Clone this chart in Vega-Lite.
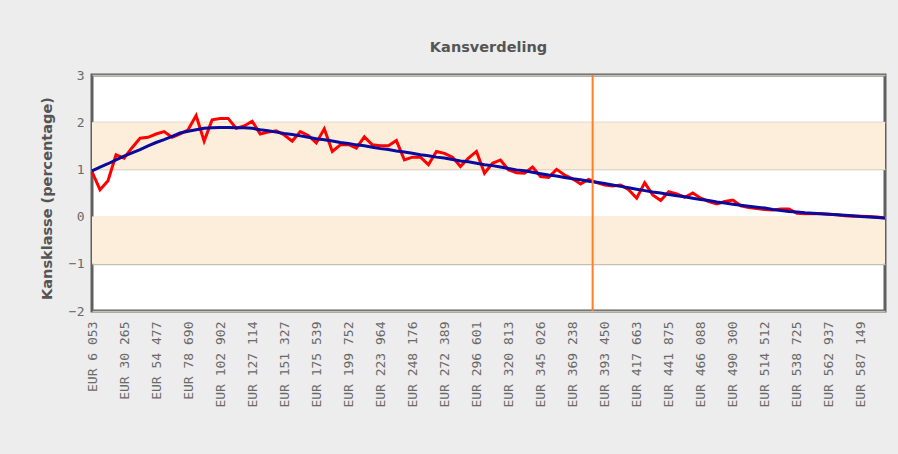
{
  "$schema": "https://vega.github.io/schema/vega-lite/v6.json",
  "autosize": {"type": "none"},
  "width": 793,
  "height": 236,
  "padding": {"left": 92, "top": 75, "right": 13, "bottom": 143},
  "background": "#ededed",
  "title": {
    "text": "Kansverdeling",
    "font": "DejaVu Sans",
    "fontSize": 14.5,
    "fontWeight": "bold",
    "color": "#555555",
    "anchor": "middle",
    "offset": 14
  },
  "config": {
    "view": {"stroke": "#5f5f5f", "strokeWidth": 3, "fill": "#ffffff"},
    "axis": {"domain": false, "ticks": false},
    "axisX": {"labelOverlap": false, "labelFlush": false, "labelBound": false, "tickCount": 40}
  },
  "datasets": {
    "punten": [
      {"bedrag": 6053, "werkelijk": 0.95, "trend": 0.97},
      {"bedrag": 12106, "werkelijk": 0.57, "trend": 1.05},
      {"bedrag": 18159, "werkelijk": 0.76, "trend": 1.12},
      {"bedrag": 24212, "werkelijk": 1.31, "trend": 1.2},
      {"bedrag": 30265, "werkelijk": 1.24, "trend": 1.28},
      {"bedrag": 36318, "werkelijk": 1.46, "trend": 1.35},
      {"bedrag": 42372, "werkelijk": 1.66, "trend": 1.42},
      {"bedrag": 48425, "werkelijk": 1.68, "trend": 1.5},
      {"bedrag": 54477, "werkelijk": 1.75, "trend": 1.57},
      {"bedrag": 60531, "werkelijk": 1.8, "trend": 1.63},
      {"bedrag": 66584, "werkelijk": 1.68, "trend": 1.7},
      {"bedrag": 72637, "werkelijk": 1.75, "trend": 1.77},
      {"bedrag": 78690, "werkelijk": 1.84, "trend": 1.81},
      {"bedrag": 84743, "werkelijk": 2.14, "trend": 1.84},
      {"bedrag": 90796, "werkelijk": 1.6, "trend": 1.87},
      {"bedrag": 96849, "werkelijk": 2.05, "trend": 1.88},
      {"bedrag": 102902, "werkelijk": 2.08, "trend": 1.89},
      {"bedrag": 108955, "werkelijk": 2.08, "trend": 1.89},
      {"bedrag": 115009, "werkelijk": 1.87, "trend": 1.88},
      {"bedrag": 121062, "werkelijk": 1.92, "trend": 1.88},
      {"bedrag": 127114, "werkelijk": 2.02, "trend": 1.87},
      {"bedrag": 133168, "werkelijk": 1.75, "trend": 1.84},
      {"bedrag": 139221, "werkelijk": 1.79, "trend": 1.82},
      {"bedrag": 145274, "werkelijk": 1.82, "trend": 1.79},
      {"bedrag": 151327, "werkelijk": 1.73, "trend": 1.76},
      {"bedrag": 157380, "werkelijk": 1.6, "trend": 1.74},
      {"bedrag": 163433, "werkelijk": 1.8, "trend": 1.71},
      {"bedrag": 169486, "werkelijk": 1.72, "trend": 1.68},
      {"bedrag": 175539, "werkelijk": 1.56, "trend": 1.65},
      {"bedrag": 181592, "werkelijk": 1.86, "trend": 1.63},
      {"bedrag": 187645, "werkelijk": 1.38, "trend": 1.6},
      {"bedrag": 193699, "werkelijk": 1.52, "trend": 1.57},
      {"bedrag": 199752, "werkelijk": 1.53, "trend": 1.55},
      {"bedrag": 205805, "werkelijk": 1.45, "trend": 1.52},
      {"bedrag": 211858, "werkelijk": 1.69, "trend": 1.5},
      {"bedrag": 217911, "werkelijk": 1.52, "trend": 1.47},
      {"bedrag": 223964, "werkelijk": 1.5, "trend": 1.44},
      {"bedrag": 230017, "werkelijk": 1.5, "trend": 1.42},
      {"bedrag": 236070, "werkelijk": 1.61, "trend": 1.39},
      {"bedrag": 242123, "werkelijk": 1.2, "trend": 1.37},
      {"bedrag": 248176, "werkelijk": 1.26, "trend": 1.34},
      {"bedrag": 254229, "werkelijk": 1.26, "trend": 1.31},
      {"bedrag": 260282, "werkelijk": 1.1, "trend": 1.29},
      {"bedrag": 266336, "werkelijk": 1.38, "trend": 1.26},
      {"bedrag": 272389, "werkelijk": 1.34, "trend": 1.24},
      {"bedrag": 278442, "werkelijk": 1.26, "trend": 1.21},
      {"bedrag": 284495, "werkelijk": 1.06, "trend": 1.18},
      {"bedrag": 290548, "werkelijk": 1.24, "trend": 1.16},
      {"bedrag": 296601, "werkelijk": 1.38, "trend": 1.13},
      {"bedrag": 302654, "werkelijk": 0.92, "trend": 1.1},
      {"bedrag": 308707, "werkelijk": 1.13, "trend": 1.08},
      {"bedrag": 314760, "werkelijk": 1.2, "trend": 1.05},
      {"bedrag": 320813, "werkelijk": 0.99, "trend": 1.02},
      {"bedrag": 326866, "werkelijk": 0.93, "trend": 0.99},
      {"bedrag": 332919, "werkelijk": 0.92, "trend": 0.97},
      {"bedrag": 338972, "werkelijk": 1.05, "trend": 0.94},
      {"bedrag": 345026, "werkelijk": 0.85, "trend": 0.91},
      {"bedrag": 351079, "werkelijk": 0.83, "trend": 0.88},
      {"bedrag": 357132, "werkelijk": 1.0, "trend": 0.86},
      {"bedrag": 363185, "werkelijk": 0.88, "trend": 0.83},
      {"bedrag": 369238, "werkelijk": 0.8, "trend": 0.8},
      {"bedrag": 375291, "werkelijk": 0.69, "trend": 0.78},
      {"bedrag": 381344, "werkelijk": 0.79, "trend": 0.75},
      {"bedrag": 387397, "werkelijk": 0.72, "trend": 0.73},
      {"bedrag": 393450, "werkelijk": 0.67, "trend": 0.7},
      {"bedrag": 399503, "werkelijk": 0.65, "trend": 0.67},
      {"bedrag": 405556, "werkelijk": 0.67, "trend": 0.64},
      {"bedrag": 411609, "werkelijk": 0.57, "trend": 0.61},
      {"bedrag": 417663, "werkelijk": 0.39, "trend": 0.58},
      {"bedrag": 423716, "werkelijk": 0.72, "trend": 0.55},
      {"bedrag": 429769, "werkelijk": 0.46, "trend": 0.52},
      {"bedrag": 435822, "werkelijk": 0.34, "trend": 0.5},
      {"bedrag": 441875, "werkelijk": 0.53, "trend": 0.47},
      {"bedrag": 447928, "werkelijk": 0.48, "trend": 0.44},
      {"bedrag": 453981, "werkelijk": 0.41, "trend": 0.42},
      {"bedrag": 460034, "werkelijk": 0.5, "trend": 0.39},
      {"bedrag": 466088, "werkelijk": 0.39, "trend": 0.36},
      {"bedrag": 472140, "werkelijk": 0.32, "trend": 0.34},
      {"bedrag": 478193, "werkelijk": 0.27, "trend": 0.31},
      {"bedrag": 484246, "werkelijk": 0.32, "trend": 0.29},
      {"bedrag": 490300, "werkelijk": 0.35, "trend": 0.26},
      {"bedrag": 496353, "werkelijk": 0.23, "trend": 0.24},
      {"bedrag": 502406, "werkelijk": 0.19, "trend": 0.22},
      {"bedrag": 508459, "werkelijk": 0.17, "trend": 0.2},
      {"bedrag": 514512, "werkelijk": 0.15, "trend": 0.18},
      {"bedrag": 520565, "werkelijk": 0.14, "trend": 0.15},
      {"bedrag": 526618, "werkelijk": 0.16, "trend": 0.13},
      {"bedrag": 532671, "werkelijk": 0.16, "trend": 0.11},
      {"bedrag": 538725, "werkelijk": 0.07, "trend": 0.1},
      {"bedrag": 544777, "werkelijk": 0.06, "trend": 0.08},
      {"bedrag": 550830, "werkelijk": 0.06, "trend": 0.07},
      {"bedrag": 556883, "werkelijk": 0.06, "trend": 0.06},
      {"bedrag": 562937, "werkelijk": 0.05, "trend": 0.05},
      {"bedrag": 568990, "werkelijk": 0.04, "trend": 0.04},
      {"bedrag": 575043, "werkelijk": 0.02, "trend": 0.03},
      {"bedrag": 581096, "werkelijk": 0.01, "trend": 0.02},
      {"bedrag": 587149, "werkelijk": 0.01, "trend": 0.0},
      {"bedrag": 593202, "werkelijk": 0.0, "trend": -0.01},
      {"bedrag": 599255, "werkelijk": -0.01, "trend": -0.02},
      {"bedrag": 605308, "werkelijk": -0.03, "trend": -0.03}
    ],
    "banden": [
      {"van": 1, "tot": 2},
      {"van": -1, "tot": 0}
    ],
    "markering": [
      {"bedrag": 384371}
    ]
  },
  "layer": [
    {
      "data": {"name": "banden"},
      "mark": {"type": "rect", "color": "#fdeedb"},
      "encoding": {
        "y": {
          "field": "van",
          "type": "quantitative",
          "scale": {"domain": [-2, 3], "nice": false},
          "axis": {
            "title": "Kansklasse (percentage)",
            "titleFont": "DejaVu Sans",
            "titleFontSize": 14.5,
            "titleFontWeight": "bold",
            "titleColor": "#555555",
            "titlePadding": 14,
            "titleY": 123,
            "values": [-2, -1, 0, 1, 2, 3],
            "labelFont": "DejaVu Sans Mono",
            "labelFontSize": 13,
            "labelColor": "#6a6a6a",
            "labelPadding": 8,
            "labelFlush": false,
            "grid": true,
            "gridColor": "#c6beb2",
            "gridWidth": 1.5
          }
        },
        "y2": {"field": "tot"}
      }
    },
    {
      "data": {"name": "punten"},
      "mark": {"type": "line", "color": "#ff0000", "strokeWidth": 3, "strokeJoin": "miter"},
      "encoding": {
        "x": {
          "field": "bedrag",
          "type": "quantitative",
          "scale": {"domain": [6053, 605308], "nice": false, "zero": false},
          "axis": {
            "title": null,
            "grid": false,
            "tickCount": 40,
            "values": [6053, 30265, 54477, 78690, 102902, 127114, 151327, 175539, 199752, 223964, 248176, 272389, 296601, 320813, 345026, 369238, 393450, 417663, 441875, 466088, 490300, 514512, 538725, 562937, 587149],
            "labelExpr": "'EUR ' + replace(format(datum.value, ',d'), ',', ' ')",
            "labelAngle": -90,
            "labelAlign": "right",
            "labelBaseline": "middle",
            "labelPadding": 10,
            "labelFont": "DejaVu Sans Mono",
            "labelFontSize": 13,
            "labelColor": "#6a6a6a",
            "labelOverlap": false,
            "labelFlush": false
          }
        },
        "y": {"field": "werkelijk", "type": "quantitative"}
      }
    },
    {
      "data": {"name": "punten"},
      "mark": {"type": "line", "color": "#0a0a9e", "strokeWidth": 3},
      "encoding": {
        "x": {"field": "bedrag", "type": "quantitative"},
        "y": {"field": "trend", "type": "quantitative"}
      }
    },
    {
      "data": {"name": "markering"},
      "mark": {"type": "rule", "color": "#ff7f27", "strokeWidth": 2},
      "encoding": {
        "x": {"field": "bedrag", "type": "quantitative"}
      }
    }
  ]
}
